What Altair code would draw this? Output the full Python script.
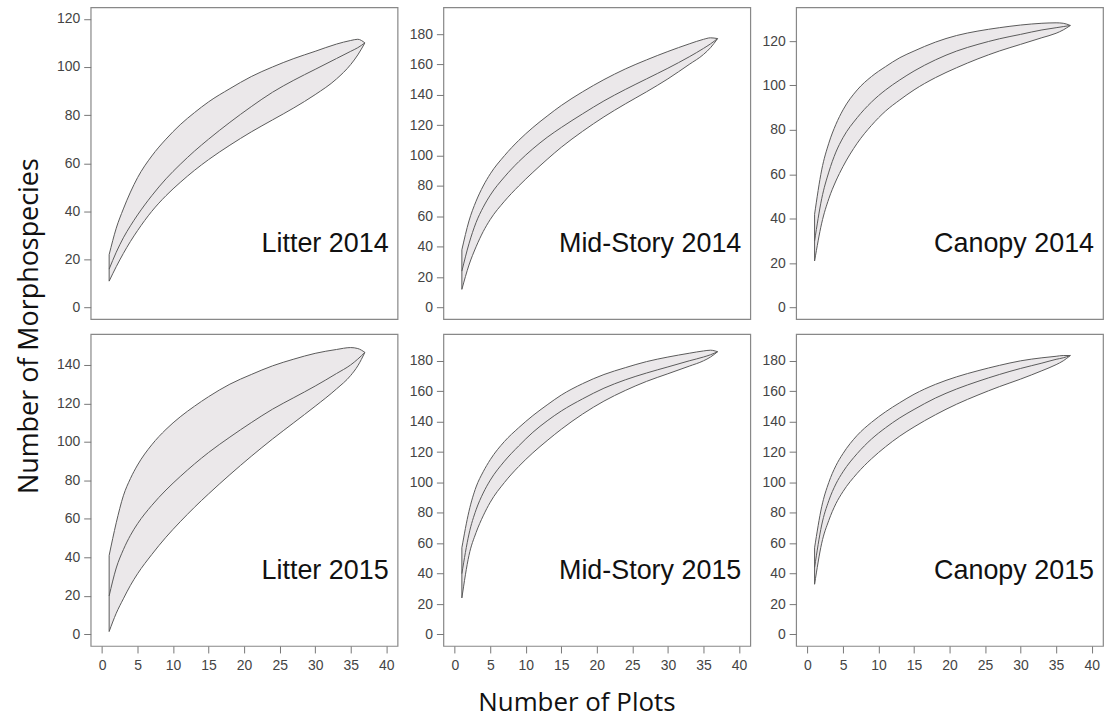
import altair as alt
import pandas as pd

# common sample sizes (number of plots)
plots = [1, 2, 3, 4, 5, 7, 9, 11, 13, 15, 18, 21, 24, 27, 30, 33, 35, 36, 37]

panel_names = ["Litter 2014", "Mid-Story 2014", "Canopy 2014",
               "Litter 2015", "Mid-Story 2015", "Canopy 2015"]
y_max = [120, 190, 130, 150, 190, 190]
y_ticks = [[0, 20, 40, 60, 80, 100, 120],
           [0, 20, 40, 60, 80, 100, 120, 140, 160, 180],
           [0, 20, 40, 60, 80, 100, 120],
           [0, 20, 40, 60, 80, 100, 120, 140],
           [0, 20, 40, 60, 80, 100, 120, 140, 160, 180],
           [0, 20, 40, 60, 80, 100, 120, 140, 160, 180]]
x_ticks = [0, 5, 10, 15, 20, 25, 30, 35, 40]

# Litter 2014
lit14_hi = [22, 33, 41, 48, 54, 63, 70, 76, 81, 85.5, 91, 96, 100, 103.5, 106.5, 109.5, 111, 111.5, 110]
lit14_mean = [16, 23, 29, 34, 38.5, 46.5, 53.5, 59.5, 65, 70, 77, 83.5, 89.5, 94.5, 99, 103.5, 106.5, 108, 110]
lit14_lo = [11, 17, 22.5, 27.5, 32, 40, 46.5, 52, 57, 61.5, 67.5, 73, 78, 83, 88.5, 95, 101, 105, 110]
# Mid-Story 2014
mid14_hi = [38, 57, 70, 80, 88, 100, 110, 118.5, 126, 133, 142, 150, 157, 163, 168.5, 173.5, 176.5, 177.5, 177]
mid14_mean = [24, 42, 56, 66, 74, 86, 96, 104.5, 112, 118.5, 127.5, 136, 143.5, 150.5, 157.5, 165, 170.5, 173.5, 177]
mid14_lo = [12, 28, 40, 50, 58, 70, 80, 89, 97.5, 105.5, 116, 125.5, 134, 142, 150.5, 160, 166.5, 171, 177]
# Canopy 2014
can14_hi = [42, 62, 74, 82.5, 89, 98, 104, 108.5, 112.5, 115.5, 119.5, 122.5, 124.5, 126, 127.2, 128, 128.2, 128, 127]
can14_mean = [30, 49, 61, 70, 76.5, 85.5, 92.5, 98, 102.5, 106.5, 111.5, 115.5, 118.5, 121, 123, 125, 126, 126.5, 127]
can14_lo = [21, 38, 49, 57, 63.5, 74, 82, 88.5, 93.5, 98, 103.5, 108, 112, 115.5, 118.5, 121.5, 123.5, 125, 127]
# Litter 2015
lit15_hi = [41, 58, 72, 81, 88, 98.5, 106.5, 113, 118.5, 123.5, 130, 135, 139.5, 143, 146, 148, 149, 148.5, 146.5]
lit15_mean = [20, 34.5, 44, 51.5, 57.5, 67, 75, 82, 88.5, 94.5, 102.5, 110, 117, 123, 129, 135.5, 140, 143, 146.5]
lit15_lo = [1.5, 11, 18.5, 25.5, 31.5, 41.5, 50.5, 58.5, 66, 73, 83, 92.5, 101.5, 110, 118.5, 127.5, 134.5, 139.5, 146.5]
# Mid-Story 2015
mid15_hi = [57, 81, 97, 107, 115, 127, 136, 144, 151, 157.5, 165, 171, 175.5, 179.5, 182.5, 185, 186.5, 187, 186]
mid15_mean = [40, 66, 82, 93, 101.5, 114, 124, 133, 140.5, 147, 155, 162, 167.5, 172, 176, 180, 182.5, 184, 186]
mid15_lo = [24, 52, 67, 78, 87, 100, 110.5, 119.5, 127.5, 135, 145, 153.5, 160.5, 166.5, 171.5, 176.5, 180, 182.5, 186]
# Canopy 2015
can15_hi = [57, 84, 100, 111, 119, 131, 139.5, 146.5, 152.5, 158, 164.5, 169.5, 173.5, 177, 180, 182, 183, 183.5, 183.5]
can15_mean = [44, 72, 88, 99, 107, 119, 128.5, 136, 142.5, 148, 155.5, 161.5, 166.5, 171, 175, 178.5, 181, 182, 183.5]
can15_lo = [33, 60, 75, 86, 94, 106, 115.5, 123.5, 130.5, 136.5, 144.5, 151.5, 157.5, 163, 168, 173.5, 177.5, 180, 183.5]

series = [(lit14_lo, lit14_mean, lit14_hi), (mid14_lo, mid14_mean, mid14_hi),
          (can14_lo, can14_mean, can14_hi), (lit15_lo, lit15_mean, lit15_hi),
          (mid15_lo, mid15_mean, mid15_hi), (can15_lo, can15_mean, can15_hi)]

W, H = 308, 313
FILL = "#ebe8ea"
LINE = "#5a5a5a"
XDOM = [-1.6, 41.6]


def panel(i):
    lo, mean, hi = series[i]
    df = pd.DataFrame({"x": plots, "lo": lo, "mean": mean, "hi": hi})
    ym = y_max[i]
    ydom = [-0.04 * ym, 1.04 * ym]
    bottom = i >= 3
    if bottom:
        xax = alt.Axis(values=x_ticks, title=None, labelFlush=False, labelOverlap=False)
    else:
        xax = None
    xscale = alt.Scale(domain=XDOM, nice=False, zero=False)
    yscale = alt.Scale(domain=ydom, nice=False, zero=False)
    yax = alt.Axis(values=y_ticks[i], title=None, labelFlush=False, labelOverlap=False)
    X = alt.X("x:Q", scale=xscale, axis=xax)
    base = alt.Chart(df)
    band = base.mark_area(color=FILL, interpolate="monotone").encode(
        x=X, y=alt.Y("lo:Q", scale=yscale, axis=yax), y2="hi:Q")
    lines = base.transform_fold(["lo", "mean", "hi"], as_=["k", "v"]).mark_line(
        color=LINE, strokeWidth=1, interpolate="monotone").encode(
        x=X, y=alt.Y("v:Q", scale=yscale, axis=yax), detail="k:N")
    edge = base.transform_filter(alt.datum.x == plots[0]).mark_rule(
        color=LINE, strokeWidth=1).encode(
        x=X, y=alt.Y("lo:Q", scale=yscale, axis=yax), y2="hi:Q")
    lab = alt.Chart(pd.DataFrame({"t": [panel_names[i]]})).mark_text(
        font="Liberation Sans", fontSize=27, color="#111", align="right",
        baseline="alphabetic").encode(text="t:N", x=alt.value(W - 9), y=alt.value(246))
    layers = [band, lines, edge, lab]
    if i == 0:
        ylab = alt.Chart(pd.DataFrame({"t": ["Number of Morphospecies"]})).mark_text(
            font="Open Sans", fontSize=27, color="#111", angle=270, align="center",
            baseline="middle").encode(text="t:N", x=alt.value(-61), y=alt.value(320))
        layers.append(ylab)
    if i == 4:
        xlab = alt.Chart(pd.DataFrame({"t": ["Number of Plots"]})).mark_text(
            font="Open Sans", fontSize=26, color="#111", align="center",
            baseline="alphabetic").encode(text="t:N", x=alt.value(134), y=alt.value(378))
        layers.append(xlab)
    return alt.layer(*layers).properties(width=W, height=H)


chart = alt.concat(*[panel(i) for i in range(6)], columns=3,
                   spacing={"row": 15, "column": 46}, bounds="flush").properties(
    padding={"left": 15, "top": 5, "right": 2, "bottom": 2}
).configure_view(stroke="#888888", strokeWidth=1.2).configure_axis(
    domain=False, grid=False, tickColor="#777", tickSize=7, tickWidth=1,
    labelFontSize=14, labelColor="#444", labelFont="Liberation Sans", labelPadding=4
).configure_axisX(labelPadding=6)

chart.save("out.html", embed_options={"renderer": "svg", "actions": False})
